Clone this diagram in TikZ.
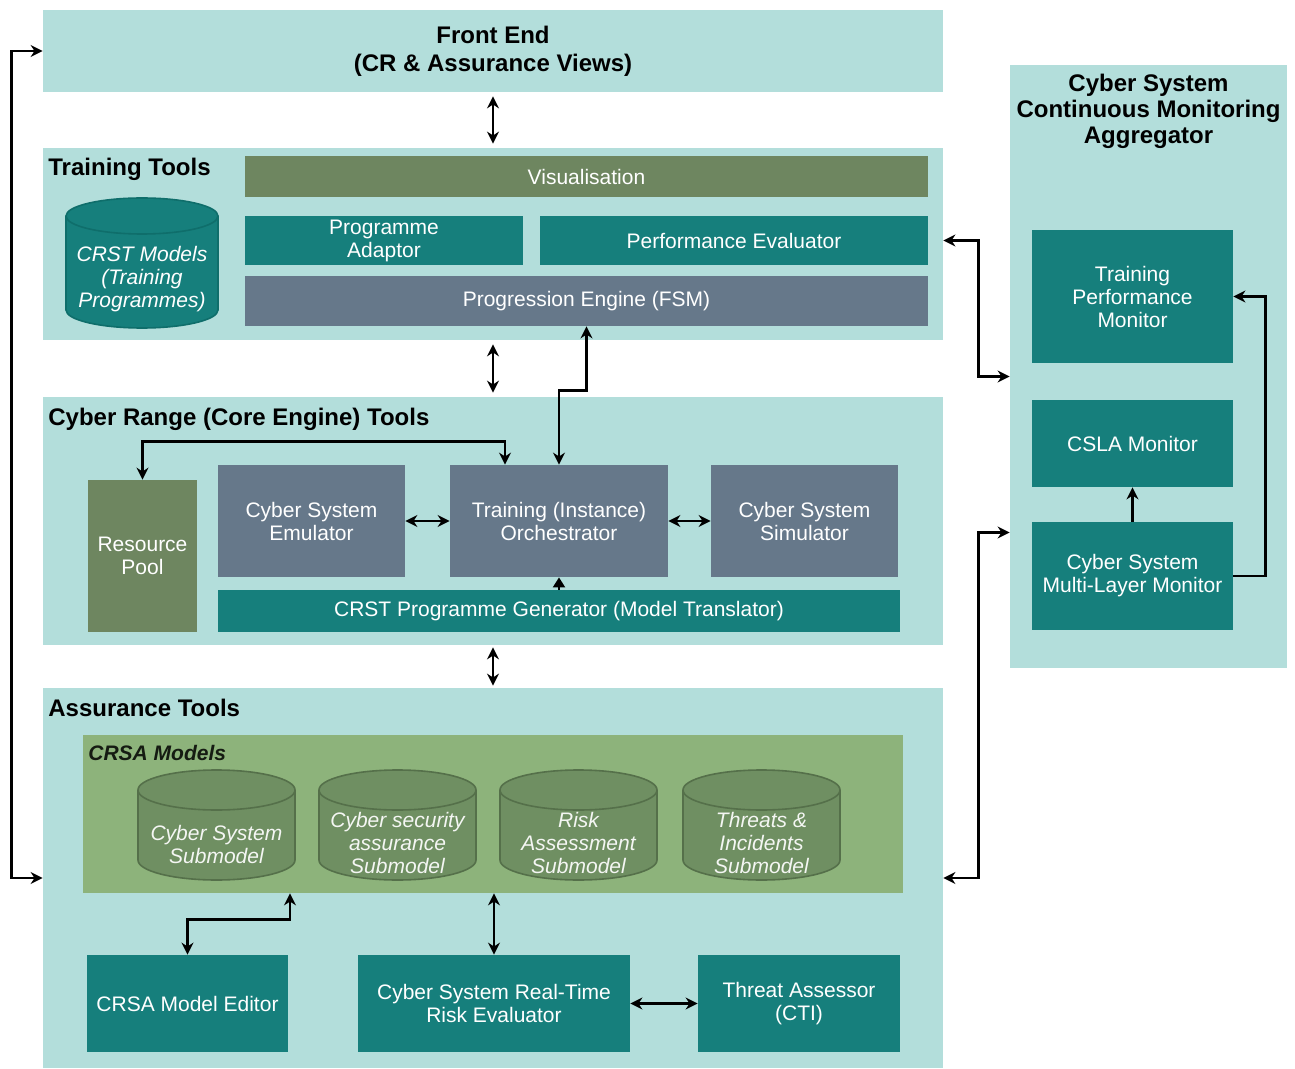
\documentclass[tikz,border=0pt]{standalone}
\usepackage{fontspec}
\setmainfont{Liberation Sans}
\usepackage{tikz}
\usetikzlibrary{positioning,arrows.meta}
\definecolor{PanelCyan}{HTML}{B3DEDB}
\definecolor{BoxTeal}{HTML}{167F7C}
\definecolor{BoxSlate}{HTML}{66788A}
\definecolor{BoxOlive}{HTML}{6E8660}
\definecolor{ModelGreen}{HTML}{8DB37B}
\definecolor{DbGreen}{HTML}{6F8F62}
\definecolor{DbEdge}{HTML}{55704A}
\definecolor{DbTeal}{HTML}{0F6E6B}

\begin{document}
\begin{tikzpicture}[
    x=0.5pt, y=-0.5pt,
    panel/.style={fill=PanelCyan, inner sep=0pt},
    title/.style={inner sep=0pt, font=\fontsize{12}{13}\selectfont\bfseries},
    box/.style={inner sep=2pt, align=center, text=white,
      font=\fontsize{10.5}{11.5}\selectfont},
    tealbox/.style={box, fill=BoxTeal},
    slatebox/.style={box, fill=BoxSlate},
    olivebox/.style={box, fill=BoxOlive},
    dbshape/.style={draw=DbEdge, fill=DbGreen, line width=0.8pt},
    dbtext/.style={inner sep=0pt, align=center, text=white!92!DbGreen,
      font=\fontsize{10.5}{11.5}\selectfont\itshape},
    arr/.style={-{Stealth[length=6pt,width=6pt]}, line width=1.2pt},
    dbl/.style={{Stealth[length=6pt,width=6pt]}-{Stealth[length=6pt,width=6pt]}, line width=1.2pt}
  ]
    \useasboundingbox (0,0) rectangle (1295,1069);

    \node[panel, align=center, minimum width=450pt, minimum height=41pt,
      font=\fontsize{12}{14}\selectfont\bfseries] (front) at (493,51) {Front End\\(CR \& Assurance Views)};

    \node[panel, minimum width=450pt, minimum height=96pt] (train) at (493,244) {};
    \node[title, anchor=base west] (traint) at (48,176) {Training Tools};
    \node[olivebox, minimum width=341.5pt, minimum height=20.5pt] (visual) at (586.5,176.5) {Visualisation};
    \filldraw[dbshape, draw=DbTeal, fill=BoxTeal] (66,216) -- (66,310)
      arc[start angle=180, end angle=360, x radius=38pt, y radius=9pt] -- (218,216)
      arc[start angle=0, end angle=180, x radius=38pt, y radius=9pt] -- cycle;
    \draw[DbTeal, line width=0.8pt] (66,216) arc[start angle=180, end angle=360, x radius=38pt, y radius=9pt];
    \node[dbtext, text=white] (crstt) at (142,279) {CRST Models\\(Training\\Programmes)};
    \node[tealbox, minimum width=139pt, minimum height=24.5pt] (adaptor) at (384,240.5) {Programme\\Adaptor};
    \node[tealbox, minimum width=194pt, minimum height=24.5pt] (perf) at (734,240.5) {Performance Evaluator};
    \node[slatebox, minimum width=341.5pt, minimum height=25pt] (progr) at (586.5,301) {Progression Engine (FSM)};

    \node[panel, minimum width=450pt, minimum height=124pt] (range) at (493,521) {};
    \node[title, anchor=base west] (ranget) at (48,425) {Cyber Range (Core Engine) Tools};
    \node[olivebox, minimum width=54.5pt, minimum height=76pt] (pool) at (142.5,556) {Resource\\Pool};
    \node[slatebox, minimum width=93.5pt, minimum height=56pt] (emul) at (311.5,521) {Cyber System\\Emulator};
    \node[slatebox, minimum width=109pt, minimum height=56pt] (orch) at (559,521) {Training (Instance)\\Orchestrator};
    \node[slatebox, minimum width=93.5pt, minimum height=56pt] (simul) at (804.5,521) {Cyber System\\Simulator};
    \node[tealbox, minimum width=341pt, minimum height=21pt] (gen) at (559,611) {CRST Programme Generator (Model Translator)};

    \node[panel, minimum width=450pt, minimum height=190pt] (assur) at (493,878) {};
    \node[title, anchor=base west] (assurt) at (48,716) {Assurance Tools};
    \node[fill=ModelGreen, inner sep=0pt, minimum width=410pt, minimum height=79pt] (crsa) at (493,814) {};
    \node[inner sep=0pt, anchor=base west, text=black!85!ModelGreen,
      font=\fontsize{10.5}{12}\selectfont\bfseries\itshape] (crsat) at (88,760) {CRSA Models};
    \foreach \cx in {216.5,397.5,578.5,761.5} {
      \filldraw[dbshape] ({\cx-78.5},790) -- ({\cx-78.5},860)
        arc[start angle=180, end angle=360, x radius=39.25pt, y radius=10pt] -- ({\cx+78.5},790)
        arc[start angle=0, end angle=180, x radius=39.25pt, y radius=10pt] -- cycle;
      \draw[DbEdge, line width=0.8pt] ({\cx-78.5},790)
        arc[start angle=180, end angle=360, x radius=39.25pt, y radius=10pt];
    }
    \node[dbtext] (dbsyst) at (216.5,844) {Cyber System\\Submodel};
    \node[dbtext] (dbsect) at (397.5,843) {Cyber security\\assurance\\Submodel};
    \node[dbtext] (dbriskt) at (578.5,843) {Risk\\Assessment\\Submodel};
    \node[dbtext] (dbthrt) at (761.5,843) {Threats \&\\Incidents\\Submodel};
    \node[tealbox, minimum width=100.5pt, minimum height=48.5pt] (editor) at (187.5,1003.5) {CRSA Model Editor};
    \node[tealbox, minimum width=136pt, minimum height=48.5pt] (risk) at (494,1003.5) {Cyber System Real-Time\\Risk Evaluator};
    \node[tealbox, minimum width=101pt, minimum height=48.5pt] (threat) at (799,1003.5) {Threat Assessor\\(CTI)};

    \node[panel, minimum width=138.5pt, minimum height=301.5pt] (agg) at (1148.5,366.5) {};
    \node[title, align=center] (aggt) at (1148.5,111) {Cyber System\\Continuous Monitoring\\Aggregator};
    \node[tealbox, minimum width=100.5pt, minimum height=66.5pt] (tpm) at (1132.5,296.5) {Training\\Performance\\Monitor};
    \node[tealbox, minimum width=100.5pt, minimum height=43.5pt] (csla) at (1132.5,443.5) {CSLA Monitor};
    \node[tealbox, minimum width=100.5pt, minimum height=54pt] (mlm) at (1132.5,576) {Cyber System\\Multi-Layer Monitor};

    \draw[dbl, shorten <=2pt, shorten >=2pt] (front.south) -- (train.north);
    \draw[dbl, shorten <=2pt, shorten >=2pt] (train.south) -- (range.north);
    \draw[dbl, shorten <=1pt, shorten >=1pt] (range.south) -- (assur.north);
    \draw[dbl] (progr.south) -- ++(0,64) -| (orch.north);
    \draw[dbl] ([xshift=-27pt]orch.north) -- ++(0,-23) -| (pool.north);
    \draw[dbl] (emul) -- (orch);
    \draw[dbl] (orch) -- (simul);
    \draw[-{Triangle[length=5pt,width=6pt]}, line width=1pt] (gen) -- (orch);
    \draw[dbl] (front.west) -- ++(-31,0) |- (assur.west);
    \draw[dbl] (perf -| train.east) -- ++(35,0) |- ([yshift=-5pt]agg.west);
    \draw[dbl] (assur.east) -- ++(35,0) |- ([yshift=-83pt]agg.west);
    \draw[arr] (mlm) -- (csla);
    \draw[arr] (mlm.east) -- ++(32,0) |- (tpm.east);
    \draw[dbl] (editor.north) -- ++(0,-35) -| ([xshift=-101.5pt]crsa.south);
    \draw[dbl] (risk.north |- crsa.south) -- (risk.north);
    \draw[dbl] (risk) -- (threat);
  \end{tikzpicture}
\end{document}
